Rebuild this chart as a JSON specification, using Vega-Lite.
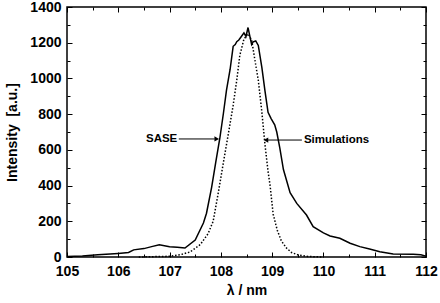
{
  "$schema": "https://vega.github.io/schema/vega-lite/v6.json",
  "width": 359,
  "height": 250,
  "autosize": "none",
  "padding": {"left": 67, "top": 7, "right": 14, "bottom": 46},
  "background": "white",
  "config": {
    "view": {"stroke": "black", "strokeWidth": 1.5},
    "font": "Liberation Sans",
    "axis": {
      "domain": false,
      "grid": false,
      "tickColor": "black",
      "tickWidth": 1,
      "labelColor": "black",
      "labelFont": "Liberation Sans",
      "labelFontWeight": "bold",
      "labelFontSize": 14,
      "titleColor": "black",
      "titleFont": "Liberation Sans",
      "titleFontWeight": "bold",
      "titleFontSize": 14
    }
  },
  "datasets": {
    "sase": [
      {"wl": 105.0, "I": 3}, {"wl": 105.3, "I": 6}, {"wl": 105.6, "I": 12}, {"wl": 106.0, "I": 20},
      {"wl": 106.2, "I": 25}, {"wl": 106.3, "I": 40}, {"wl": 106.5, "I": 47}, {"wl": 106.65, "I": 58},
      {"wl": 106.8, "I": 68}, {"wl": 107.0, "I": 58}, {"wl": 107.15, "I": 55}, {"wl": 107.3, "I": 50},
      {"wl": 107.5, "I": 95}, {"wl": 107.66, "I": 190}, {"wl": 107.72, "I": 245}, {"wl": 107.82, "I": 390},
      {"wl": 107.9, "I": 530}, {"wl": 107.98, "I": 665}, {"wl": 108.05, "I": 805}, {"wl": 108.11, "I": 935},
      {"wl": 108.18, "I": 1050}, {"wl": 108.24, "I": 1180}, {"wl": 108.28, "I": 1190}, {"wl": 108.31, "I": 1206},
      {"wl": 108.35, "I": 1215}, {"wl": 108.4, "I": 1235}, {"wl": 108.45, "I": 1255}, {"wl": 108.49, "I": 1235},
      {"wl": 108.53, "I": 1285}, {"wl": 108.57, "I": 1230}, {"wl": 108.6, "I": 1190}, {"wl": 108.63, "I": 1205},
      {"wl": 108.68, "I": 1210}, {"wl": 108.73, "I": 1185}, {"wl": 108.8, "I": 1060}, {"wl": 108.86, "I": 930},
      {"wl": 108.92, "I": 810}, {"wl": 108.98, "I": 775}, {"wl": 109.05, "I": 740}, {"wl": 109.09, "I": 700},
      {"wl": 109.15, "I": 610}, {"wl": 109.22, "I": 490}, {"wl": 109.35, "I": 360}, {"wl": 109.48, "I": 300},
      {"wl": 109.67, "I": 235}, {"wl": 109.8, "I": 170}, {"wl": 110.0, "I": 135}, {"wl": 110.13, "I": 118},
      {"wl": 110.32, "I": 105}, {"wl": 110.52, "I": 77}, {"wl": 110.71, "I": 58}, {"wl": 110.9, "I": 45},
      {"wl": 111.1, "I": 30}, {"wl": 111.36, "I": 17}, {"wl": 111.75, "I": 15}, {"wl": 111.9, "I": 12},
      {"wl": 112.0, "I": 5}
    ],
    "sim": [
      {"wl": 106.4, "I": 0}, {"wl": 107.0, "I": 4}, {"wl": 107.2, "I": 12}, {"wl": 107.4, "I": 28},
      {"wl": 107.6, "I": 70}, {"wl": 107.75, "I": 130}, {"wl": 107.85, "I": 200}, {"wl": 107.95, "I": 360},
      {"wl": 108.05, "I": 530}, {"wl": 108.14, "I": 680}, {"wl": 108.24, "I": 850}, {"wl": 108.31, "I": 990},
      {"wl": 108.37, "I": 1130}, {"wl": 108.45, "I": 1220}, {"wl": 108.53, "I": 1250}, {"wl": 108.6, "I": 1215},
      {"wl": 108.66, "I": 1110}, {"wl": 108.73, "I": 990}, {"wl": 108.8, "I": 810}, {"wl": 108.86, "I": 630},
      {"wl": 108.92, "I": 480}, {"wl": 108.96, "I": 400}, {"wl": 109.02, "I": 240}, {"wl": 109.1, "I": 150},
      {"wl": 109.18, "I": 90}, {"wl": 109.28, "I": 50}, {"wl": 109.38, "I": 25}, {"wl": 109.5, "I": 12},
      {"wl": 109.7, "I": 3}, {"wl": 110.0, "I": 0}
    ],
    "arrows": [
      {"x1": 107.18, "x2": 107.88, "y": 661, "tip": 107.92, "dir": "right", "label": "SASE", "lx": 107.17},
      {"x1": 108.92, "x2": 109.58, "y": 655, "tip": 108.88, "dir": "left", "label": "Simulations", "lx": 109.6}
    ]
  },
  "layer": [
    {
      "data": {"name": "sase"},
      "mark": {"type": "line", "color": "black", "strokeWidth": 1.5},
      "encoding": {
        "x": {"field": "wl", "type": "quantitative", "scale": {"domain": [105, 112], "nice": false},
          "axis": {"orient": "bottom", "title": "λ / nm", "values": [105, 106, 107, 108, 109, 110, 111, 112],
            "tickSize": -5, "labelPadding": 12, "titlePadding": 5, "labelFlush": false, "format": "d"}},
        "y": {"field": "I", "type": "quantitative", "scale": {"domain": [0, 1400], "nice": false},
          "axis": {"orient": "left", "title": "Intensity\u00a0 [a.u.]", "values": [0, 200, 400, 600, 800, 1000, 1200, 1400],
            "tickSize": -5, "labelPadding": 11, "titlePadding": 10, "labelFlush": false, "format": "d"}}
      }
    },
    {
      "data": {"name": "sim"},
      "mark": {"type": "line", "color": "black", "strokeWidth": 1.5, "strokeDash": [1.5, 1.8]},
      "encoding": {
        "x": {"field": "wl", "type": "quantitative",
          "axis": {"orient": "top", "title": null, "labels": false, "values": [105, 106, 107, 108, 109, 110, 111, 112], "tickSize": -5}},
        "y": {"field": "I", "type": "quantitative",
          "axis": {"orient": "right", "title": null, "labels": false, "values": [0, 200, 400, 600, 800, 1000, 1200, 1400], "tickSize": -5}}
      }
    },
    {
      "data": {"name": "arrows"},
      "mark": {"type": "rule", "color": "black", "strokeWidth": 1},
      "encoding": {
        "x": {"field": "x1", "type": "quantitative",
          "axis": {"orient": "bottom", "title": null, "labels": false, "values": [105.5, 106.5, 107.5, 108.5, 109.5, 110.5, 111.5], "tickSize": -3}},
        "x2": {"field": "x2"},
        "y": {"field": "y", "type": "quantitative",
          "axis": {"orient": "left", "title": null, "labels": false, "values": [100, 300, 500, 700, 900, 1100, 1300], "tickSize": -3}}
      }
    },
    {
      "data": {"name": "arrows"},
      "mark": {"type": "point", "filled": true, "color": "black", "opacity": 1, "size": 28},
      "encoding": {
        "x": {"field": "tip", "type": "quantitative",
          "axis": {"orient": "top", "title": null, "labels": false, "values": [105.5, 106.5, 107.5, 108.5, 109.5, 110.5, 111.5], "tickSize": -3}},
        "y": {"field": "y", "type": "quantitative",
          "axis": {"orient": "right", "title": null, "labels": false, "values": [100, 300, 500, 700, 900, 1100, 1300], "tickSize": -3}},
        "shape": {"field": "dir", "type": "nominal", "scale": {"domain": ["right", "left"], "range": ["triangle-right", "triangle-left"]}, "legend": null}
      }
    },
    {
      "data": {"name": "arrows"},
      "transform": [{"filter": "datum.dir == 'right'"}],
      "mark": {"type": "text", "color": "black", "fontWeight": "bold", "fontSize": 11.5, "font": "Liberation Sans", "baseline": "middle", "align": "right", "dx": -1},
      "encoding": {
        "x": {"field": "lx", "type": "quantitative", "axis": null},
        "y": {"field": "y", "type": "quantitative", "axis": null},
        "text": {"field": "label"}
      }
    },
    {
      "data": {"name": "arrows"},
      "transform": [{"filter": "datum.dir == 'left'"}],
      "mark": {"type": "text", "color": "black", "fontWeight": "bold", "fontSize": 11.5, "font": "Liberation Sans", "baseline": "middle", "align": "left", "dx": 1},
      "encoding": {
        "x": {"field": "lx", "type": "quantitative", "axis": null},
        "y": {"field": "y", "type": "quantitative", "axis": null},
        "text": {"field": "label"}
      }
    }
  ],
  "resolve": {"axis": {"x": "independent", "y": "independent"}}
}
